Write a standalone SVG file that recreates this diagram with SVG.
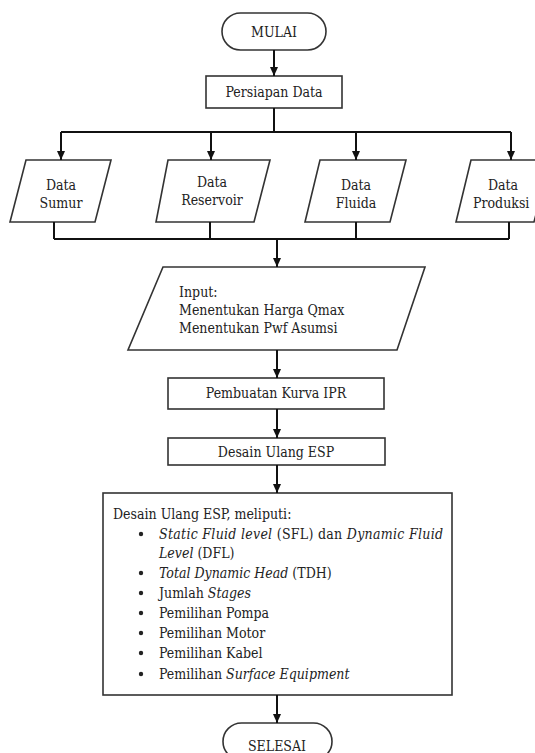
<svg xmlns="http://www.w3.org/2000/svg" width="535" height="753" viewBox="0 0 535 753">
<defs>
<marker id="ah" markerWidth="10" markerHeight="10" refX="9" refY="4" orient="auto" markerUnits="userSpaceOnUse">
<path d="M0,0 L9,4 L0,8 z" fill="#111"/>
</marker>
<style>
.shape{fill:#fff;stroke:#333;stroke-width:1.6}
.t{font-family:'DejaVu Serif Condensed','DejaVu Serif',serif;font-stretch:condensed;font-size:14px;fill:#222}
.c{text-anchor:middle}
.con line{stroke:#111;stroke-width:2;fill:none}
.i{font-style:italic}
</style>
</defs>
<rect width="535" height="753" fill="#fff"/>

<g id="mulai">
<rect class="shape" x="222" y="13" width="104" height="37" rx="18.5"/>
<text class="t c" x="274" y="37">MULAI</text>
</g>
<g id="persiapan">
<rect class="shape" x="206" y="76" width="136" height="32"/>
<text class="t c" x="274" y="97">Persiapan Data</text>
</g>
<g id="data-sumur">
<polygon class="shape" points="26,160 111,160 95,222 10,222"/>
<text class="t c" x="61" y="190">Data</text>
<text class="t c" x="61" y="208">Sumur</text>
</g>
<g id="data-reservoir">
<polygon class="shape" points="168,160 270,160 254,222 156,222"/>
<text class="t c" x="212" y="187">Data</text>
<text class="t c" x="212" y="205">Reservoir</text>
</g>
<g id="data-fluida">
<polygon class="shape" points="320,160 406,160 390,222 305,222"/>
<text class="t c" x="356" y="190">Data</text>
<text class="t c" x="356" y="208">Fluida</text>
</g>
<g id="data-produksi">
<polygon class="shape" points="471,160 550,160 534,222 456,222"/>
<text class="t c" x="503" y="190">Data</text>
<text class="t" x="473" y="208">Produksi</text>
</g>
<g id="input">
<polygon class="shape" points="163,267 425,267 397,350 128,350"/>
<text class="t" x="179" y="297">Input:</text>
<text class="t" x="179" y="315">Menentukan Harga Qmax</text>
<text class="t" x="179" y="333">Menentukan Pwf Asumsi</text>
</g>
<g id="ipr">
<rect class="shape" x="168" y="378" width="216" height="31"/>
<text class="t c" x="276" y="398">Pembuatan Kurva IPR</text>
</g>
<g id="desain">
<rect class="shape" x="168" y="438" width="217" height="27"/>
<text class="t c" x="276" y="457">Desain Ulang ESP</text>
</g>
<g id="desain-detail">
<rect class="shape" x="103" y="493" width="349" height="202"/>
<text class="t" x="113" y="519">Desain Ulang ESP, meliputi:</text>
<g fill="#222">
<circle cx="141" cy="534" r="2.2"/>
<circle cx="141" cy="573" r="2.2"/>
<circle cx="141" cy="593" r="2.2"/>
<circle cx="141" cy="613" r="2.2"/>
<circle cx="141" cy="633" r="2.2"/>
<circle cx="141" cy="653" r="2.2"/>
<circle cx="141" cy="674" r="2.2"/>
</g>
<text class="t" x="159" y="539" textLength="284" lengthAdjust="spacing"><tspan class="i">Static Fluid level</tspan> (SFL) dan <tspan class="i">Dynamic Fluid</tspan></text>
<text class="t" x="159" y="558"><tspan class="i">Level</tspan> (DFL)</text>
<text class="t" x="159" y="578"><tspan class="i">Total Dynamic Head</tspan> (TDH)</text>
<text class="t" x="159" y="598">Jumlah <tspan class="i">Stages</tspan></text>
<text class="t" x="159" y="618">Pemilihan Pompa</text>
<text class="t" x="159" y="638">Pemilihan Motor</text>
<text class="t" x="159" y="658">Pemilihan Kabel</text>
<text class="t" x="159" y="679">Pemilihan <tspan class="i">Surface Equipment</tspan></text>
</g>
<g id="selesai">
<rect class="shape" x="223" y="723" width="109" height="37" rx="18.5"/>
<text class="t c" x="277" y="751">SELESAI</text>
</g>

<g id="connectors" class="con">
<line x1="274" y1="50" x2="274" y2="76" marker-end="url(#ah)"/>
<line x1="274" y1="108" x2="274" y2="132"/>
<line x1="61" y1="132" x2="511" y2="132"/>
<line x1="61" y1="132" x2="61" y2="160" marker-end="url(#ah)"/>
<line x1="211" y1="132" x2="211" y2="160" marker-end="url(#ah)"/>
<line x1="356" y1="132" x2="356" y2="160" marker-end="url(#ah)"/>
<line x1="511" y1="132" x2="511" y2="160" marker-end="url(#ah)"/>
<line x1="54" y1="222" x2="54" y2="239"/>
<line x1="210" y1="222" x2="210" y2="239"/>
<line x1="356" y1="222" x2="356" y2="239"/>
<line x1="509" y1="222" x2="509" y2="239"/>
<line x1="54" y1="239" x2="509" y2="239"/>
<line x1="277" y1="239" x2="277" y2="267" marker-end="url(#ah)"/>
<line x1="277" y1="350" x2="277" y2="378" marker-end="url(#ah)"/>
<line x1="277" y1="409" x2="277" y2="438" marker-end="url(#ah)"/>
<line x1="277" y1="465" x2="277" y2="493" marker-end="url(#ah)"/>
<line x1="277" y1="695" x2="277" y2="723" marker-end="url(#ah)"/>
</g>
</svg>
